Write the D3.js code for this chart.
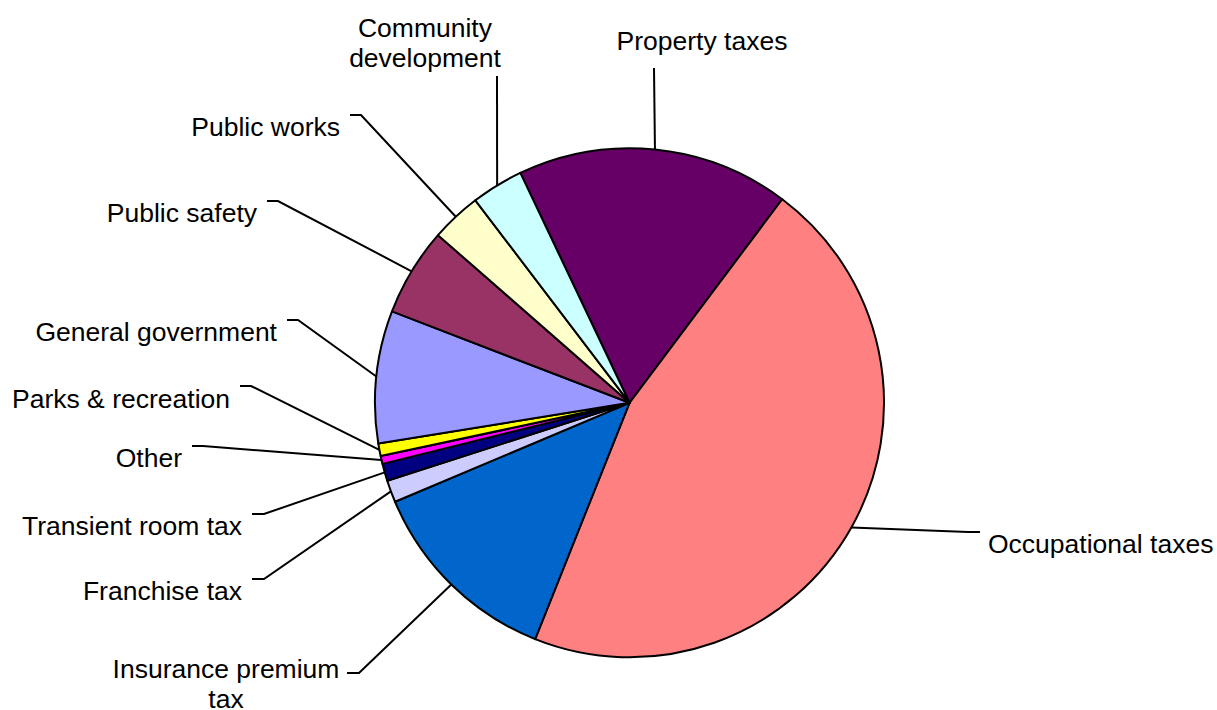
<!DOCTYPE html>
<html>
<head>
<meta charset="utf-8">
<script src="https://cdn.jsdelivr.net/npm/d3@7"></script>
<style>
  html, body { margin: 0; padding: 0; background: #fff; }
  svg { display: block; }
</style>
</head>
<body>
<div id="chart"></div>
<script>
// slice data, in drawing order (clockwise)
const categories = ["Property taxes", "Occupational taxes", "Insurance premium tax", "Franchise tax",
  "Transient room tax", "Other", "Parks & recreation", "General government", "Public safety",
  "Public works", "Community development"];
const shares = [17.3, 45.8, 12.6, 1.4, 1.1, 0.5, 0.8, 8.4, 5.6, 3.2, 3.3];
const colors = ["#660066", "#FF8080", "#0066CC", "#CCCCFF", "#000080", "#FF00FF", "#FFFF00",
  "#9999FF", "#993366", "#FFFFCC", "#CCFFFF"];

// label placement (layout only)
const labelLayout = {
  "Property taxes":        {lines: ["Property taxes"], x: 702, y: 50, anchor: "middle", stub: [[654, 68]]},
  "Occupational taxes":    {lines: ["Occupational taxes"], x: 988, y: 553, anchor: "start", stub: [[980, 532], [968, 532]]},
  "Insurance premium tax": {lines: ["Insurance premium", "tax"], x: 226, y: 678, anchor: "middle", stub: [[347, 673], [359, 673]]},
  "Franchise tax":         {lines: ["Franchise tax"], x: 242, y: 600, anchor: "end", stub: [[252, 579], [264, 579]]},
  "Transient room tax":    {lines: ["Transient room tax"], x: 242, y: 535, anchor: "end", stub: [[252, 514], [264, 514]]},
  "Other":                 {lines: ["Other"], x: 182, y: 467, anchor: "end", stub: [[192, 446], [203, 446]]},
  "Parks & recreation":    {lines: ["Parks & recreation"], x: 230, y: 408, anchor: "end", stub: [[240, 386], [251, 386]]},
  "General government":    {lines: ["General government"], x: 277, y: 341, anchor: "end", stub: [[287, 320], [298, 320]]},
  "Public safety":         {lines: ["Public safety"], x: 257, y: 222, anchor: "end", stub: [[267, 201], [278, 201]]},
  "Public works":          {lines: ["Public works"], x: 340, y: 136, anchor: "end", stub: [[350, 115], [361, 115]]},
  "Community development": {lines: ["Community", "development"], x: 425, y: 37, anchor: "middle", stub: [[497, 76]]}
};

const width = 1217, height = 710;
const cx = 629.5, cy = 402.8, radius = 254.5;
const startDeg = -25.4;

const data = categories.map((c, i) => ({name: c, value: shares[i], color: colors[i]}));

const svg = d3.select("#chart").append("svg")
  .attr("width", width)
  .attr("height", height);

const pie = d3.pie()
  .sort(null)
  .value(d => d.value)
  .startAngle(startDeg * Math.PI / 180)
  .endAngle(startDeg * Math.PI / 180 + 2 * Math.PI);

const arcs = pie(data);

const arc = d3.arc().innerRadius(0).outerRadius(radius);
const edge = d3.arc().innerRadius(radius).outerRadius(radius);

const g = svg.append("g").attr("transform", `translate(${cx},${cy})`);

g.selectAll("path.slice")
  .data(arcs)
  .enter().append("path")
  .attr("class", "slice")
  .attr("d", arc)
  .attr("fill", d => d.data.color)
  .attr("stroke", "#000")
  .attr("stroke-width", 2)
  .attr("stroke-linejoin", "round");

// leader lines
const line = d3.line();
svg.selectAll("path.leader")
  .data(arcs)
  .enter().append("path")
  .attr("class", "leader")
  .attr("d", d => {
    let lay = labelLayout[d.data.name];
    let p = edge.centroid(d);
    let pts = lay.stub.concat([[p[0] + cx, p[1] + cy]]);
    return line(pts);
  })
  .attr("fill", "none")
  .attr("stroke", "#000")
  .attr("stroke-width", 2);

// labels
arcs.forEach(d => {
  let lay = labelLayout[d.data.name];
  let t = svg.append("text")
    .attr("x", lay.x)
    .attr("y", lay.y)
    .attr("text-anchor", lay.anchor)
    .style("font", "26.5px 'Liberation Sans', Arial, sans-serif")
    .attr("fill", "#000");
  lay.lines.forEach((s, i) => {
    t.append("tspan")
      .attr("x", lay.x)
      .attr("dy", i === 0 ? 0 : 29.5)
      .text(s);
  });
});
</script>
</body>
</html>
